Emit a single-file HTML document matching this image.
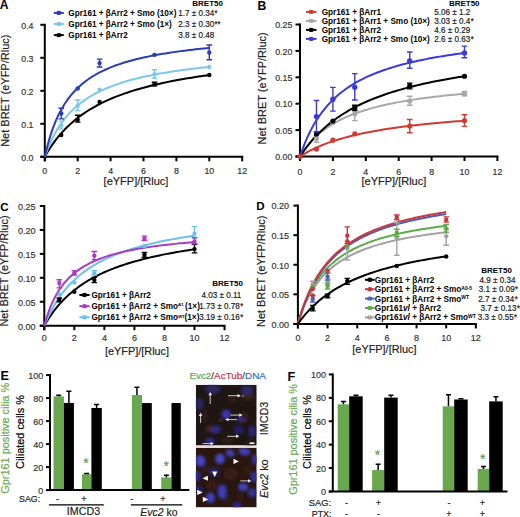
<!DOCTYPE html>
<html><head><meta charset="utf-8"><style>
html,body{margin:0;padding:0;background:#fff;width:520px;height:517px;overflow:hidden}
svg{display:block;font-family:"Liberation Sans", sans-serif}
</style></head><body>
<svg width="520" height="517" viewBox="0 0 520 517" font-family='"Liberation Sans", sans-serif'>
<rect width="520" height="517" fill="#fff"/>
<text x="-0.30" y="9.40" font-size="12.2" font-weight="bold" text-anchor="start" fill="#000" >A</text>
<text x="257.60" y="9.80" font-size="12.2" font-weight="bold" text-anchor="start" fill="#000" >B</text>
<text x="0.30" y="210.50" font-size="11.6" font-weight="bold" text-anchor="start" fill="#000" >C</text>
<text x="256.30" y="210.20" font-size="11.6" font-weight="bold" text-anchor="start" fill="#000" >D</text>
<text x="0.60" y="380.40" font-size="12.6" font-weight="bold" text-anchor="start" fill="#000" >E</text>
<text x="287.40" y="380.50" font-size="12.6" font-weight="bold" text-anchor="start" fill="#000" >F</text>
<path d="M44.80,161.30 V23.80" stroke="#000" stroke-width="2" fill="none"/>
<path d="M40.30,156.80 H243.20" stroke="#000" stroke-width="2" fill="none"/>
<path d="M40.30,156.80 H44.80" stroke="#000" stroke-width="2"/>
<text transform="translate(33.50,160.56) scale(1,1.06)" text-anchor="end" font-size="8.8" fill="#333" stroke="#333" stroke-width="0.18">0.0</text>
<path d="M40.30,123.80 H44.80" stroke="#000" stroke-width="2"/>
<text transform="translate(33.50,127.56) scale(1,1.06)" text-anchor="end" font-size="8.8" fill="#333" stroke="#333" stroke-width="0.18">0.1</text>
<path d="M40.30,90.80 H44.80" stroke="#000" stroke-width="2"/>
<text transform="translate(33.50,94.56) scale(1,1.06)" text-anchor="end" font-size="8.8" fill="#333" stroke="#333" stroke-width="0.18">0.2</text>
<path d="M40.30,57.80 H44.80" stroke="#000" stroke-width="2"/>
<text transform="translate(33.50,61.56) scale(1,1.06)" text-anchor="end" font-size="8.8" fill="#333" stroke="#333" stroke-width="0.18">0.3</text>
<path d="M40.30,24.80 H44.80" stroke="#000" stroke-width="2"/>
<text transform="translate(33.50,28.56) scale(1,1.06)" text-anchor="end" font-size="8.8" fill="#333" stroke="#333" stroke-width="0.18">0.4</text>
<path d="M44.80,156.80 V161.30" stroke="#000" stroke-width="2"/>
<text transform="translate(44.80,174.26) scale(1,1.06)" text-anchor="middle" font-size="8.8" fill="#333" stroke="#333" stroke-width="0.18">0</text>
<path d="M77.70,156.80 V161.30" stroke="#000" stroke-width="2"/>
<text transform="translate(77.70,174.26) scale(1,1.06)" text-anchor="middle" font-size="8.8" fill="#333" stroke="#333" stroke-width="0.18">2</text>
<path d="M110.60,156.80 V161.30" stroke="#000" stroke-width="2"/>
<text transform="translate(110.60,174.26) scale(1,1.06)" text-anchor="middle" font-size="8.8" fill="#333" stroke="#333" stroke-width="0.18">4</text>
<path d="M143.50,156.80 V161.30" stroke="#000" stroke-width="2"/>
<text transform="translate(143.50,174.26) scale(1,1.06)" text-anchor="middle" font-size="8.8" fill="#333" stroke="#333" stroke-width="0.18">6</text>
<path d="M176.40,156.80 V161.30" stroke="#000" stroke-width="2"/>
<text transform="translate(176.40,174.26) scale(1,1.06)" text-anchor="middle" font-size="8.8" fill="#333" stroke="#333" stroke-width="0.18">8</text>
<path d="M209.30,156.80 V161.30" stroke="#000" stroke-width="2"/>
<text transform="translate(209.30,174.26) scale(1,1.06)" text-anchor="middle" font-size="8.8" fill="#333" stroke="#333" stroke-width="0.18">10</text>
<path d="M242.20,156.80 V161.30" stroke="#000" stroke-width="2"/>
<text transform="translate(242.20,174.26) scale(1,1.06)" text-anchor="middle" font-size="8.8" fill="#333" stroke="#333" stroke-width="0.18">12</text>
<polyline points="44.80,156.80 47.54,152.06 50.28,147.70 53.02,143.68 55.77,139.96 58.51,136.50 61.25,133.29 63.99,130.29 66.73,127.49 69.47,124.86 72.22,122.39 74.96,120.07 77.70,117.88 80.44,115.82 83.18,113.86 85.92,112.01 88.67,110.26 91.41,108.59 94.15,107.01 96.89,105.50 99.63,104.06 102.38,102.69 105.12,101.38 107.86,100.12 110.60,98.92 113.34,97.77 116.08,96.67 118.82,95.61 121.57,94.59 124.31,93.62 127.05,92.68 129.79,91.77 132.53,90.90 135.27,90.05 138.02,89.24 140.76,88.46 143.50,87.70 146.24,86.97 148.98,86.26 151.72,85.58 154.47,84.91 157.21,84.27 159.95,83.65 162.69,83.05 165.43,82.46 168.18,81.89 170.92,81.34 173.66,80.81 176.40,80.28 179.14,79.78 181.88,79.29 184.62,78.81 187.37,78.34 190.11,77.89 192.85,77.45 195.59,77.01 198.33,76.59 201.07,76.19 203.82,75.79 206.56,75.40 209.30,75.02" stroke="#000" stroke-width="2" fill="none"/>
<polyline points="44.80,156.80 47.54,149.33 50.28,142.81 53.02,137.06 55.77,131.96 58.51,127.40 61.25,123.30 63.99,119.60 66.73,116.23 69.47,113.16 72.22,110.35 74.96,107.77 77.70,105.38 80.44,103.18 83.18,101.13 85.92,99.22 88.67,97.44 91.41,95.78 94.15,94.22 96.89,92.76 99.63,91.39 102.38,90.09 105.12,88.86 107.86,87.71 110.60,86.61 113.34,85.57 116.08,84.58 118.82,83.64 121.57,82.75 124.31,81.89 127.05,81.08 129.79,80.30 132.53,79.56 135.27,78.85 138.02,78.17 140.76,77.51 143.50,76.88 146.24,76.28 148.98,75.70 151.72,75.14 154.47,74.61 157.21,74.09 159.95,73.59 162.69,73.11 165.43,72.64 168.18,72.20 170.92,71.76 173.66,71.34 176.40,70.94 179.14,70.54 181.88,70.16 184.62,69.79 187.37,69.44 190.11,69.09 192.85,68.75 195.59,68.42 198.33,68.11 201.07,67.80 203.82,67.50 206.56,67.21 209.30,66.92" stroke="#7cc8ea" stroke-width="2" fill="none"/>
<polyline points="44.80,156.80 47.54,145.43 50.28,135.92 53.02,127.85 55.77,120.92 58.51,114.90 61.25,109.62 63.99,104.96 66.73,100.81 69.47,97.09 72.22,93.74 74.96,90.71 77.70,87.95 80.44,85.42 83.18,83.11 85.92,80.98 88.67,79.01 91.41,77.19 94.15,75.49 96.89,73.92 99.63,72.44 102.38,71.06 105.12,69.77 107.86,68.55 110.60,67.41 113.34,66.33 116.08,65.31 118.82,64.35 121.57,63.43 124.31,62.56 127.05,61.74 129.79,60.96 132.53,60.21 135.27,59.50 138.02,58.82 140.76,58.17 143.50,57.54 146.24,56.95 148.98,56.38 151.72,55.83 154.47,55.30 157.21,54.80 159.95,54.31 162.69,53.84 165.43,53.39 168.18,52.96 170.92,52.54 173.66,52.13 176.40,51.74 179.14,51.37 181.88,51.00 184.62,50.65 187.37,50.31 190.11,49.98 192.85,49.66 195.59,49.35 198.33,49.05 201.07,48.75 203.82,48.47 206.56,48.20 209.30,47.93" stroke="#2b3db5" stroke-width="2" fill="none"/>
<circle cx="61.25" cy="135.02" r="2.2" fill="#000"/>
<path d="M77.70,122.15 V115.22 M74.90,122.15 H80.50 M74.90,115.22 H80.50" stroke="#000" stroke-width="1.4" fill="none"/>
<circle cx="77.70" cy="119.84" r="2.2" fill="#000"/>
<circle cx="99.58" cy="102.02" r="2.2" fill="#000"/>
<path d="M154.52,85.85 V82.22 M151.72,85.85 H157.32 M151.72,82.22 H157.32" stroke="#000" stroke-width="1.4" fill="none"/>
<circle cx="154.52" cy="84.20" r="2.2" fill="#000"/>
<circle cx="209.30" cy="74.96" r="2.2" fill="#000"/>
<path d="M61.25,129.08 V121.16 M58.45,129.08 H64.05 M58.45,121.16 H64.05" stroke="#7cc8ea" stroke-width="1.4" fill="none"/>
<circle cx="61.25" cy="125.45" r="2.2" fill="#7cc8ea"/>
<path d="M77.70,110.60 V100.04 M74.90,110.60 H80.50 M74.90,100.04 H80.50" stroke="#7cc8ea" stroke-width="1.4" fill="none"/>
<circle cx="77.70" cy="105.65" r="2.2" fill="#7cc8ea"/>
<circle cx="99.58" cy="89.81" r="2.2" fill="#7cc8ea"/>
<path d="M154.52,78.26 V69.68 M151.72,78.26 H157.32 M151.72,69.68 H157.32" stroke="#7cc8ea" stroke-width="1.4" fill="none"/>
<circle cx="154.52" cy="74.30" r="2.2" fill="#7cc8ea"/>
<circle cx="209.30" cy="67.04" r="2.2" fill="#7cc8ea"/>
<path d="M61.25,118.85 V108.29 M58.45,118.85 H64.05 M58.45,108.29 H64.05" stroke="#2b3db5" stroke-width="1.4" fill="none"/>
<circle cx="61.25" cy="113.57" r="2.2" fill="#2b3db5"/>
<circle cx="77.70" cy="88.49" r="2.2" fill="#2b3db5"/>
<path d="M99.58,67.04 V59.12 M96.78,67.04 H102.38 M96.78,59.12 H102.38" stroke="#2b3db5" stroke-width="1.4" fill="none"/>
<circle cx="99.58" cy="63.08" r="2.2" fill="#2b3db5"/>
<circle cx="154.52" cy="54.83" r="2.2" fill="#2b3db5"/>
<path d="M209.30,59.78 V44.93 M206.50,59.78 H212.10 M206.50,44.93 H212.10" stroke="#2b3db5" stroke-width="1.4" fill="none"/>
<circle cx="209.30" cy="52.52" r="2.2" fill="#2b3db5"/>
<path d="M53.80,12.90 H63.80" stroke="#2b3db5" stroke-width="2"/>
<ellipse cx="58.80" cy="12.90" rx="2.6" ry="2.2" fill="#2b3db5"/>
<text x="68.30" y="15.80" font-size="8.2" font-weight="bold" text-anchor="start" fill="#000" >Gpr161 + βArr2 + Smo (10×)</text>
<text transform="translate(178.20,15.80) scale(1,1.08)" font-size="8.1" font-weight="normal" text-anchor="start" fill="#1a1a1a"  stroke="#1a1a1a" stroke-width="0.18">1.7 ± 0.34<tspan font-size="7.6" dx="0.4">*</tspan></text>
<path d="M53.80,24.00 H63.80" stroke="#7cc8ea" stroke-width="2"/>
<ellipse cx="58.80" cy="24.00" rx="2.6" ry="2.2" fill="#7cc8ea"/>
<text x="68.30" y="26.90" font-size="8.2" font-weight="bold" text-anchor="start" fill="#000" >Gpr161 + βArr2 + Smo (1×)</text>
<text transform="translate(178.20,26.90) scale(1,1.08)" font-size="8.1" font-weight="normal" text-anchor="start" fill="#1a1a1a"  stroke="#1a1a1a" stroke-width="0.18">2.3 ± 0.30<tspan font-size="7.6" dx="0.4">**</tspan></text>
<path d="M53.80,35.10 H63.80" stroke="#000" stroke-width="2"/>
<ellipse cx="58.80" cy="35.10" rx="2.6" ry="2.2" fill="#000"/>
<text x="68.30" y="38.00" font-size="8.2" font-weight="bold" text-anchor="start" fill="#000" >Gpr161 + βArr2</text>
<text transform="translate(178.20,38.00) scale(1,1.08)" font-size="8.1" font-weight="normal" text-anchor="start" fill="#1a1a1a"  stroke="#1a1a1a" stroke-width="0.18">3.8 ± 0.48</text>
<text x="192.30" y="5.80" font-size="8.0" font-weight="bold" text-anchor="start" fill="#000" >BRET50</text>
<text x="136.00" y="184.80" font-size="11" font-weight="normal" text-anchor="middle" fill="#222"  stroke="#222" stroke-width="0.18">[eYFP]/[Rluc]</text>
<text transform="translate(8.6,90.7) rotate(-90)" text-anchor="middle" font-size="11" fill="#222" stroke="#222" stroke-width="0.18">Net BRET (eYFP/Rluc)</text>
<path d="M300.00,161.00 V23.50" stroke="#000" stroke-width="2" fill="none"/>
<path d="M295.50,156.50 H498.40" stroke="#000" stroke-width="2" fill="none"/>
<path d="M295.50,156.50 H300.00" stroke="#000" stroke-width="2"/>
<text transform="translate(292.30,160.26) scale(1,1.06)" text-anchor="end" font-size="8.8" fill="#333" stroke="#333" stroke-width="0.18">0.00</text>
<path d="M295.50,130.10 H300.00" stroke="#000" stroke-width="2"/>
<text transform="translate(292.30,133.86) scale(1,1.06)" text-anchor="end" font-size="8.8" fill="#333" stroke="#333" stroke-width="0.18">0.05</text>
<path d="M295.50,103.70 H300.00" stroke="#000" stroke-width="2"/>
<text transform="translate(292.30,107.46) scale(1,1.06)" text-anchor="end" font-size="8.8" fill="#333" stroke="#333" stroke-width="0.18">0.10</text>
<path d="M295.50,77.30 H300.00" stroke="#000" stroke-width="2"/>
<text transform="translate(292.30,81.06) scale(1,1.06)" text-anchor="end" font-size="8.8" fill="#333" stroke="#333" stroke-width="0.18">0.15</text>
<path d="M295.50,50.90 H300.00" stroke="#000" stroke-width="2"/>
<text transform="translate(292.30,54.66) scale(1,1.06)" text-anchor="end" font-size="8.8" fill="#333" stroke="#333" stroke-width="0.18">0.20</text>
<path d="M295.50,24.50 H300.00" stroke="#000" stroke-width="2"/>
<text transform="translate(292.30,28.26) scale(1,1.06)" text-anchor="end" font-size="8.8" fill="#333" stroke="#333" stroke-width="0.18">0.25</text>
<path d="M300.00,156.50 V161.00" stroke="#000" stroke-width="2"/>
<text transform="translate(300.00,174.66) scale(1,1.06)" text-anchor="middle" font-size="8.8" fill="#333" stroke="#333" stroke-width="0.18">0</text>
<path d="M332.90,156.50 V161.00" stroke="#000" stroke-width="2"/>
<text transform="translate(332.90,174.66) scale(1,1.06)" text-anchor="middle" font-size="8.8" fill="#333" stroke="#333" stroke-width="0.18">2</text>
<path d="M365.80,156.50 V161.00" stroke="#000" stroke-width="2"/>
<text transform="translate(365.80,174.66) scale(1,1.06)" text-anchor="middle" font-size="8.8" fill="#333" stroke="#333" stroke-width="0.18">4</text>
<path d="M398.70,156.50 V161.00" stroke="#000" stroke-width="2"/>
<text transform="translate(398.70,174.66) scale(1,1.06)" text-anchor="middle" font-size="8.8" fill="#333" stroke="#333" stroke-width="0.18">6</text>
<path d="M431.60,156.50 V161.00" stroke="#000" stroke-width="2"/>
<text transform="translate(431.60,174.66) scale(1,1.06)" text-anchor="middle" font-size="8.8" fill="#333" stroke="#333" stroke-width="0.18">8</text>
<path d="M464.50,156.50 V161.00" stroke="#000" stroke-width="2"/>
<text transform="translate(464.50,174.66) scale(1,1.06)" text-anchor="middle" font-size="8.8" fill="#333" stroke="#333" stroke-width="0.18">10</text>
<path d="M497.40,156.50 V161.00" stroke="#000" stroke-width="2"/>
<text transform="translate(497.40,174.66) scale(1,1.06)" text-anchor="middle" font-size="8.8" fill="#333" stroke="#333" stroke-width="0.18">12</text>
<polyline points="300.00,156.50 302.74,154.78 305.48,153.17 308.23,151.66 310.97,150.23 313.71,148.88 316.45,147.61 319.19,146.41 321.93,145.27 324.68,144.19 327.42,143.16 330.16,142.18 332.90,141.24 335.64,140.35 338.38,139.50 341.12,138.69 343.87,137.91 346.61,137.17 349.35,136.45 352.09,135.77 354.83,135.11 357.57,134.48 360.32,133.87 363.06,133.29 365.80,132.72 368.54,132.18 371.28,131.66 374.02,131.15 376.77,130.66 379.51,130.19 382.25,129.73 384.99,129.29 387.73,128.86 390.48,128.45 393.22,128.05 395.96,127.66 398.70,127.28 401.44,126.92 404.18,126.56 406.93,126.22 409.67,125.88 412.41,125.56 415.15,125.24 417.89,124.93 420.63,124.63 423.38,124.34 426.12,124.06 428.86,123.78 431.60,123.51 434.34,123.25 437.08,122.99 439.82,122.74 442.57,122.50 445.31,122.26 448.05,122.03 450.79,121.80 453.53,121.58 456.27,121.36 459.02,121.15 461.76,120.94 464.50,120.74" stroke="#d03a2e" stroke-width="2" fill="none"/>
<polyline points="300.00,156.50 302.74,152.23 305.48,148.39 308.23,144.91 310.97,141.74 313.71,138.85 316.45,136.19 319.19,133.75 321.93,131.49 324.68,129.40 327.42,127.46 330.16,125.65 332.90,123.96 335.64,122.38 338.38,120.90 341.12,119.50 343.87,118.19 346.61,116.95 349.35,115.78 352.09,114.68 354.83,113.63 357.57,112.63 360.32,111.69 363.06,110.79 365.80,109.93 368.54,109.12 371.28,108.34 374.02,107.59 376.77,106.88 379.51,106.20 382.25,105.54 384.99,104.91 387.73,104.31 390.48,103.73 393.22,103.17 395.96,102.64 398.70,102.12 401.44,101.62 404.18,101.14 406.93,100.68 409.67,100.23 412.41,99.80 415.15,99.38 417.89,98.98 420.63,98.59 423.38,98.21 426.12,97.84 428.86,97.49 431.60,97.14 434.34,96.81 437.08,96.48 439.82,96.17 442.57,95.86 445.31,95.56 448.05,95.27 450.79,94.99 453.53,94.72 456.27,94.45 459.02,94.19 461.76,93.94 464.50,93.69" stroke="#a8a8a8" stroke-width="2" fill="none"/>
<polyline points="300.00,156.50 302.74,152.40 305.48,148.58 308.23,145.01 310.97,141.66 313.71,138.52 316.45,135.57 319.19,132.79 321.93,130.16 324.68,127.68 327.42,125.33 330.16,123.10 332.90,120.98 335.64,118.97 338.38,117.05 341.12,115.23 343.87,113.48 346.61,111.82 349.35,110.23 352.09,108.71 354.83,107.25 357.57,105.85 360.32,104.51 363.06,103.22 365.80,101.98 368.54,100.79 371.28,99.64 374.02,98.54 376.77,97.47 379.51,96.44 382.25,95.45 384.99,94.49 387.73,93.57 390.48,92.67 393.22,91.80 395.96,90.96 398.70,90.15 401.44,89.36 404.18,88.60 406.93,87.86 409.67,87.14 412.41,86.44 415.15,85.77 417.89,85.11 420.63,84.47 423.38,83.85 426.12,83.24 428.86,82.65 431.60,82.08 434.34,81.52 437.08,80.97 439.82,80.44 442.57,79.93 445.31,79.42 448.05,78.93 450.79,78.45 453.53,77.98 456.27,77.52 459.02,77.08 461.76,76.64 464.50,76.22" stroke="#000" stroke-width="2" fill="none"/>
<polyline points="300.00,156.50 302.74,148.64 305.48,141.68 308.23,135.47 310.97,129.88 313.71,124.85 316.45,120.27 319.19,116.11 321.93,112.29 324.68,108.79 327.42,105.56 330.16,102.57 332.90,99.80 335.64,97.22 338.38,94.82 341.12,92.57 343.87,90.47 346.61,88.49 349.35,86.63 352.09,84.88 354.83,83.23 357.57,81.67 360.32,80.19 363.06,78.79 365.80,77.46 368.54,76.19 371.28,74.99 374.02,73.84 376.77,72.75 379.51,71.70 382.25,70.70 384.99,69.74 387.73,68.83 390.48,67.95 393.22,67.10 395.96,66.29 398.70,65.51 401.44,64.76 404.18,64.04 406.93,63.35 409.67,62.68 412.41,62.03 415.15,61.41 417.89,60.80 420.63,60.22 423.38,59.66 426.12,59.11 428.86,58.58 431.60,58.07 434.34,57.58 437.08,57.10 439.82,56.63 442.57,56.18 445.31,55.74 448.05,55.32 450.79,54.90 453.53,54.50 456.27,54.11 459.02,53.73 461.76,53.36 464.50,53.00" stroke="#3a3ad8" stroke-width="2" fill="none"/>
<circle cx="300.00" cy="156.50" r="2.6" fill="#d03a2e"/>
<circle cx="316.45" cy="149.11" r="2.6" fill="#d03a2e"/>
<circle cx="332.90" cy="140.13" r="2.6" fill="#d03a2e"/>
<circle cx="354.78" cy="133.80" r="2.6" fill="#d03a2e"/>
<path d="M409.72,132.74 V119.54 M406.92,132.74 H412.52 M406.92,119.54 H412.52" stroke="#d03a2e" stroke-width="1.4" fill="none"/>
<circle cx="409.72" cy="126.09" r="2.6" fill="#d03a2e"/>
<path d="M464.50,126.40 V114.79 M461.70,126.40 H467.30 M461.70,114.79 H467.30" stroke="#d03a2e" stroke-width="1.4" fill="none"/>
<circle cx="464.50" cy="120.60" r="2.6" fill="#d03a2e"/>
<path d="M316.45,142.24 V135.91 M313.65,142.24 H319.25 M313.65,135.91 H319.25" stroke="#a8a8a8" stroke-width="1.4" fill="none"/>
<circle cx="316.45" cy="138.55" r="2.6" fill="#a8a8a8"/>
<circle cx="332.90" cy="122.18" r="2.6" fill="#a8a8a8"/>
<path d="M354.78,120.60 V106.34 M351.98,120.60 H357.58 M351.98,106.34 H357.58" stroke="#a8a8a8" stroke-width="1.4" fill="none"/>
<circle cx="354.78" cy="113.73" r="2.6" fill="#a8a8a8"/>
<path d="M409.72,105.28 V96.31 M406.92,105.28 H412.52 M406.92,96.31 H412.52" stroke="#a8a8a8" stroke-width="1.4" fill="none"/>
<circle cx="409.72" cy="101.06" r="2.6" fill="#a8a8a8"/>
<path d="M464.50,95.78 V91.56 M461.70,95.78 H467.30 M461.70,91.56 H467.30" stroke="#a8a8a8" stroke-width="1.4" fill="none"/>
<circle cx="464.50" cy="93.67" r="2.6" fill="#a8a8a8"/>
<circle cx="316.45" cy="134.01" r="2.6" fill="#000"/>
<circle cx="332.90" cy="121.12" r="2.6" fill="#000"/>
<path d="M354.78,110.56 V105.28 M351.98,110.56 H357.58 M351.98,105.28 H357.58" stroke="#000" stroke-width="1.4" fill="none"/>
<circle cx="354.78" cy="107.92" r="2.6" fill="#000"/>
<path d="M409.72,88.92 V83.11 M406.92,88.92 H412.52 M406.92,83.11 H412.52" stroke="#000" stroke-width="1.4" fill="none"/>
<circle cx="409.72" cy="85.75" r="2.6" fill="#000"/>
<circle cx="464.50" cy="76.24" r="2.6" fill="#000"/>
<path d="M316.45,131.68 V100.53 M313.65,131.68 H319.25 M313.65,100.53 H319.25" stroke="#3a3ad8" stroke-width="1.4" fill="none"/>
<circle cx="316.45" cy="116.58" r="2.7" fill="#3a3ad8"/>
<path d="M332.90,111.09 V87.33 M330.10,111.09 H335.70 M330.10,87.33 H335.70" stroke="#3a3ad8" stroke-width="1.4" fill="none"/>
<circle cx="332.90" cy="99.21" r="2.7" fill="#3a3ad8"/>
<path d="M354.78,100.00 V73.60 M351.98,100.00 H357.58 M351.98,73.60 H357.58" stroke="#3a3ad8" stroke-width="1.4" fill="none"/>
<circle cx="354.78" cy="87.33" r="2.7" fill="#3a3ad8"/>
<path d="M409.72,68.32 V51.96 M406.92,68.32 H412.52 M406.92,51.96 H412.52" stroke="#3a3ad8" stroke-width="1.4" fill="none"/>
<circle cx="409.72" cy="60.93" r="2.7" fill="#3a3ad8"/>
<path d="M464.50,57.76 V46.15 M461.70,57.76 H467.30 M461.70,46.15 H467.30" stroke="#3a3ad8" stroke-width="1.4" fill="none"/>
<circle cx="464.50" cy="53.01" r="2.7" fill="#3a3ad8"/>
<path d="M306.00,11.90 H316.50" stroke="#d03a2e" stroke-width="2"/>
<ellipse cx="311.25" cy="11.90" rx="2.6" ry="2.2" fill="#d03a2e"/>
<text x="321.70" y="14.80" font-size="8.2" font-weight="bold" text-anchor="start" fill="#000" >Gpr161 + βArr1</text>
<text transform="translate(434.30,14.80) scale(1,1.08)" font-size="8.1" font-weight="normal" text-anchor="start" fill="#1a1a1a"  stroke="#1a1a1a" stroke-width="0.18">5.06 ± 1.2</text>
<path d="M306.00,20.90 H316.50" stroke="#a8a8a8" stroke-width="2"/>
<ellipse cx="311.25" cy="20.90" rx="2.6" ry="2.2" fill="#a8a8a8"/>
<text x="321.70" y="23.80" font-size="8.2" font-weight="bold" text-anchor="start" fill="#000" >Gpr161 + βArr1 + Smo (10×)</text>
<text transform="translate(434.30,23.80) scale(1,1.08)" font-size="8.1" font-weight="normal" text-anchor="start" fill="#1a1a1a"  stroke="#1a1a1a" stroke-width="0.18">3.03 ± 0.4<tspan font-size="7.6" dx="0.4">*</tspan></text>
<path d="M306.00,29.90 H316.50" stroke="#000" stroke-width="2"/>
<ellipse cx="311.25" cy="29.90" rx="2.6" ry="2.2" fill="#000"/>
<text x="321.70" y="32.80" font-size="8.2" font-weight="bold" text-anchor="start" fill="#000" >Gpr161 + βArr2</text>
<text transform="translate(434.30,32.80) scale(1,1.08)" font-size="8.1" font-weight="normal" text-anchor="start" fill="#1a1a1a"  stroke="#1a1a1a" stroke-width="0.18">4.6 ± 0.29</text>
<path d="M306.00,38.90 H316.50" stroke="#3a3ad8" stroke-width="2"/>
<ellipse cx="311.25" cy="38.90" rx="2.6" ry="2.2" fill="#3a3ad8"/>
<text x="321.70" y="41.80" font-size="8.2" font-weight="bold" text-anchor="start" fill="#000" >Gpr161 + βArr2 + Smo (10×)</text>
<text transform="translate(434.30,41.80) scale(1,1.08)" font-size="8.1" font-weight="normal" text-anchor="start" fill="#1a1a1a"  stroke="#1a1a1a" stroke-width="0.18">2.6 ± 0.63<tspan font-size="7.6" dx="0.4">*</tspan></text>
<text x="448.90" y="5.90" font-size="8.0" font-weight="bold" text-anchor="start" fill="#000" >BRET50</text>
<text x="393.90" y="184.80" font-size="11" font-weight="normal" text-anchor="middle" fill="#222"  stroke="#222" stroke-width="0.18">[eYFP]/[Rluc]</text>
<text transform="translate(265.8,88.4) rotate(-90)" text-anchor="middle" font-size="11" fill="#222" stroke="#222" stroke-width="0.18">Net BRET (eYFP/Rluc)</text><path d="M44.30,330.20 V205.00" stroke="#000" stroke-width="2" fill="none"/>
<path d="M39.80,325.70 H225.54" stroke="#000" stroke-width="2" fill="none"/>
<path d="M39.80,325.70 H44.30" stroke="#000" stroke-width="2"/>
<text transform="translate(35.40,329.54) scale(1,1.06)" text-anchor="end" font-size="9.0" fill="#333" stroke="#333" stroke-width="0.18">0.00</text>
<path d="M39.80,301.76 H44.30" stroke="#000" stroke-width="2"/>
<text transform="translate(35.40,305.60) scale(1,1.06)" text-anchor="end" font-size="9.0" fill="#333" stroke="#333" stroke-width="0.18">0.05</text>
<path d="M39.80,277.82 H44.30" stroke="#000" stroke-width="2"/>
<text transform="translate(35.40,281.66) scale(1,1.06)" text-anchor="end" font-size="9.0" fill="#333" stroke="#333" stroke-width="0.18">0.10</text>
<path d="M39.80,253.88 H44.30" stroke="#000" stroke-width="2"/>
<text transform="translate(35.40,257.72) scale(1,1.06)" text-anchor="end" font-size="9.0" fill="#333" stroke="#333" stroke-width="0.18">0.15</text>
<path d="M39.80,229.94 H44.30" stroke="#000" stroke-width="2"/>
<text transform="translate(35.40,233.78) scale(1,1.06)" text-anchor="end" font-size="9.0" fill="#333" stroke="#333" stroke-width="0.18">0.20</text>
<path d="M39.80,206.00 H44.30" stroke="#000" stroke-width="2"/>
<text transform="translate(35.40,209.84) scale(1,1.06)" text-anchor="end" font-size="9.0" fill="#333" stroke="#333" stroke-width="0.18">0.25</text>
<path d="M44.30,325.70 V330.20" stroke="#000" stroke-width="2"/>
<text transform="translate(44.30,341.14) scale(1,1.06)" text-anchor="middle" font-size="9.0" fill="#333" stroke="#333" stroke-width="0.18">0</text>
<path d="M74.34,325.70 V330.20" stroke="#000" stroke-width="2"/>
<text transform="translate(74.34,341.14) scale(1,1.06)" text-anchor="middle" font-size="9.0" fill="#333" stroke="#333" stroke-width="0.18">2</text>
<path d="M104.38,325.70 V330.20" stroke="#000" stroke-width="2"/>
<text transform="translate(104.38,341.14) scale(1,1.06)" text-anchor="middle" font-size="9.0" fill="#333" stroke="#333" stroke-width="0.18">4</text>
<path d="M134.42,325.70 V330.20" stroke="#000" stroke-width="2"/>
<text transform="translate(134.42,341.14) scale(1,1.06)" text-anchor="middle" font-size="9.0" fill="#333" stroke="#333" stroke-width="0.18">6</text>
<path d="M164.46,325.70 V330.20" stroke="#000" stroke-width="2"/>
<text transform="translate(164.46,341.14) scale(1,1.06)" text-anchor="middle" font-size="9.0" fill="#333" stroke="#333" stroke-width="0.18">8</text>
<path d="M194.50,325.70 V330.20" stroke="#000" stroke-width="2"/>
<text transform="translate(194.50,341.14) scale(1,1.06)" text-anchor="middle" font-size="9.0" fill="#333" stroke="#333" stroke-width="0.18">10</text>
<path d="M224.54,325.70 V330.20" stroke="#000" stroke-width="2"/>
<text transform="translate(224.54,341.14) scale(1,1.06)" text-anchor="middle" font-size="9.0" fill="#333" stroke="#333" stroke-width="0.18">12</text>
<polyline points="44.30,325.70 46.80,321.44 49.31,317.51 51.81,313.86 54.31,310.48 56.82,307.32 59.32,304.38 61.82,301.62 64.33,299.04 66.83,296.61 69.33,294.32 71.84,292.16 74.34,290.13 76.84,288.20 79.35,286.37 81.85,284.64 84.35,282.99 86.86,281.42 89.36,279.93 91.86,278.51 94.37,277.15 96.87,275.85 99.37,274.61 101.88,273.42 104.38,272.27 106.88,271.18 109.39,270.13 111.89,269.12 114.39,268.15 116.90,267.21 119.40,266.31 121.90,265.45 124.41,264.61 126.91,263.80 129.41,263.02 131.92,262.27 134.42,261.54 136.92,260.84 139.43,260.16 141.93,259.50 144.43,258.86 146.94,258.24 149.44,257.63 151.94,257.05 154.45,256.49 156.95,255.94 159.45,255.40 161.96,254.88 164.46,254.38 166.96,253.89 169.47,253.41 171.97,252.94 174.47,252.49 176.98,252.05 179.48,251.62 181.98,251.20 184.49,250.79 186.99,250.39 189.49,250.01 192.00,249.63 194.50,249.26" stroke="#000" stroke-width="2" fill="none"/>
<polyline points="44.30,325.70 46.80,319.80 49.31,314.47 51.81,309.61 54.31,305.17 56.82,301.11 59.32,297.36 61.82,293.90 64.33,290.70 66.83,287.72 69.33,284.95 71.84,282.36 74.34,279.94 76.84,277.67 79.35,275.54 81.85,273.53 84.35,271.63 86.86,269.84 89.36,268.15 91.86,266.55 94.37,265.02 96.87,263.58 99.37,262.20 101.88,260.89 104.38,259.64 106.88,258.45 109.39,257.31 111.89,256.21 114.39,255.17 116.90,254.17 119.40,253.21 121.90,252.29 124.41,251.40 126.91,250.55 129.41,249.73 131.92,248.94 134.42,248.18 136.92,247.44 139.43,246.73 141.93,246.05 144.43,245.39 146.94,244.75 149.44,244.13 151.94,243.53 154.45,242.95 156.95,242.39 159.45,241.85 161.96,241.32 164.46,240.81 166.96,240.31 169.47,239.83 171.97,239.36 174.47,238.90 176.98,238.46 179.48,238.03 181.98,237.61 184.49,237.20 186.99,236.81 189.49,236.42 192.00,236.04 194.50,235.68" stroke="#6cc0ea" stroke-width="2" fill="none"/>
<polyline points="44.30,325.70 46.80,317.07 49.31,309.84 51.81,303.69 54.31,298.40 56.82,293.79 59.32,289.75 61.82,286.17 64.33,282.98 66.83,280.12 69.33,277.54 71.84,275.20 74.34,273.07 76.84,271.12 79.35,269.34 81.85,267.69 84.35,266.17 86.86,264.76 89.36,263.45 91.86,262.22 94.37,261.08 96.87,260.01 99.37,259.01 101.88,258.07 104.38,257.18 106.88,256.34 109.39,255.55 111.89,254.80 114.39,254.09 116.90,253.42 119.40,252.78 121.90,252.17 124.41,251.59 126.91,251.03 129.41,250.50 131.92,250.00 134.42,249.51 136.92,249.05 139.43,248.61 141.93,248.18 144.43,247.77 146.94,247.38 149.44,247.00 151.94,246.63 154.45,246.28 156.95,245.94 159.45,245.62 161.96,245.30 164.46,245.00 166.96,244.70 169.47,244.42 171.97,244.14 174.47,243.88 176.98,243.62 179.48,243.37 181.98,243.13 184.49,242.89 186.99,242.67 189.49,242.45 192.00,242.23 194.50,242.02" stroke="#a83cc8" stroke-width="2" fill="none"/>
<path d="M59.32,301.76 V297.93 M56.52,301.76 H62.12 M56.52,297.93 H62.12" stroke="#000" stroke-width="1.4" fill="none"/>
<circle cx="59.32" cy="299.84" r="2.2" fill="#000"/>
<circle cx="74.34" cy="291.71" r="2.2" fill="#000"/>
<path d="M94.32,282.61 V277.34 M91.52,282.61 H97.12 M91.52,277.34 H97.12" stroke="#000" stroke-width="1.4" fill="none"/>
<circle cx="94.32" cy="279.88" r="2.2" fill="#000"/>
<path d="M144.48,257.23 V252.44 M141.68,257.23 H147.28 M141.68,252.44 H147.28" stroke="#000" stroke-width="1.4" fill="none"/>
<circle cx="144.48" cy="254.84" r="2.2" fill="#000"/>
<path d="M194.50,252.92 V244.30 M191.70,252.92 H197.30 M191.70,244.30 H197.30" stroke="#000" stroke-width="1.4" fill="none"/>
<circle cx="194.50" cy="249.09" r="2.2" fill="#000"/>
<circle cx="59.32" cy="294.10" r="2.2" fill="#6cc0ea"/>
<circle cx="74.34" cy="282.61" r="2.2" fill="#6cc0ea"/>
<path d="M94.32,274.95 V270.64 M91.52,274.95 H97.12 M91.52,270.64 H97.12" stroke="#6cc0ea" stroke-width="1.4" fill="none"/>
<circle cx="94.32" cy="273.03" r="2.2" fill="#6cc0ea"/>
<circle cx="144.48" cy="246.22" r="2.2" fill="#6cc0ea"/>
<path d="M194.50,238.08 V226.59 M191.70,238.08 H197.30 M191.70,226.59 H197.30" stroke="#6cc0ea" stroke-width="1.4" fill="none"/>
<circle cx="194.50" cy="233.77" r="2.2" fill="#6cc0ea"/>
<path d="M59.32,287.87 V279.74 M56.52,287.87 H62.12 M56.52,279.74 H62.12" stroke="#a83cc8" stroke-width="1.4" fill="none"/>
<circle cx="59.32" cy="282.90" r="2.2" fill="#a83cc8"/>
<path d="M74.34,274.95 V270.64 M71.54,274.95 H77.14 M71.54,270.64 H77.14" stroke="#a83cc8" stroke-width="1.4" fill="none"/>
<circle cx="74.34" cy="273.03" r="2.2" fill="#a83cc8"/>
<path d="M94.32,259.63 V251.49 M91.52,259.63 H97.12 M91.52,251.49 H97.12" stroke="#a83cc8" stroke-width="1.4" fill="none"/>
<circle cx="94.32" cy="255.80" r="2.2" fill="#a83cc8"/>
<path d="M144.48,240.47 V236.16 M141.68,240.47 H147.28 M141.68,236.16 H147.28" stroke="#a83cc8" stroke-width="1.4" fill="none"/>
<circle cx="144.48" cy="238.56" r="2.2" fill="#a83cc8"/>
<path d="M194.50,243.83 V237.60 M191.70,243.83 H197.30 M191.70,237.60 H197.30" stroke="#a83cc8" stroke-width="1.4" fill="none"/>
<circle cx="194.50" cy="241.43" r="2.2" fill="#a83cc8"/>
<path d="M79.40,295.00 H89.60" stroke="#000" stroke-width="2"/>
<ellipse cx="84.50" cy="295.00" rx="2.6" ry="2.2" fill="#000"/>
<text x="91.50" y="297.90" font-size="8.2" font-weight="bold" text-anchor="start" fill="#000" >Gpr161 + βArr2</text>
<path d="M79.40,306.15 H89.60" stroke="#a83cc8" stroke-width="2"/>
<ellipse cx="84.50" cy="306.15" rx="2.6" ry="2.2" fill="#a83cc8"/>
<text x="91.50" y="309.05" font-size="8.2" font-weight="bold" text-anchor="start" fill="#000" >Gpr161 + βArr2 + Smo<tspan font-size="4.4" dy="-2.6">A1</tspan></text>
<text x="185.10" y="309.05" font-size="8.2" font-weight="bold" text-anchor="start" fill="#000" >(1×)</text>
<path d="M79.40,317.30 H89.60" stroke="#6cc0ea" stroke-width="2"/>
<ellipse cx="84.50" cy="317.30" rx="2.6" ry="2.2" fill="#6cc0ea"/>
<text x="91.50" y="320.20" font-size="8.2" font-weight="bold" text-anchor="start" fill="#000" >Gpr161 + βArr2 + Smo<tspan font-size="4.4" dy="-2.6">WT</tspan></text>
<text x="184.60" y="320.20" font-size="8.2" font-weight="bold" text-anchor="start" fill="#000" >(1×)</text>
<text transform="translate(201.50,297.90) scale(1,1.08)" font-size="8.1" font-weight="normal" text-anchor="start" fill="#1a1a1a"  stroke="#1a1a1a" stroke-width="0.18">4.03 ± 0.11</text>
<text transform="translate(199.30,309.05) scale(1,1.08)" font-size="8.1" font-weight="normal" text-anchor="start" fill="#1a1a1a"  stroke="#1a1a1a" stroke-width="0.18">1.73 ± 0.78<tspan font-size="7.6" dx="0.4">*</tspan></text>
<text transform="translate(199.30,320.20) scale(1,1.08)" font-size="8.1" font-weight="normal" text-anchor="start" fill="#1a1a1a"  stroke="#1a1a1a" stroke-width="0.18">3.19 ± 0.16<tspan font-size="7.6" dx="0.4">*</tspan></text>
<text x="212.30" y="286.40" font-size="8.0" font-weight="bold" text-anchor="start" fill="#000" >BRET50</text>
<text x="137.00" y="354.80" font-size="10.9" font-weight="normal" text-anchor="middle" fill="#222"  stroke="#222" stroke-width="0.18">[eYFP]/[Rluc]</text>
<text transform="translate(8.4,271) rotate(-90)" text-anchor="middle" font-size="10.9" fill="#222" stroke="#222" stroke-width="0.18">Net BRET (eYFP/Rluc)</text>
<path d="M297.90,328.40 V204.60" stroke="#000" stroke-width="2" fill="none"/>
<path d="M293.40,323.90 H476.86" stroke="#000" stroke-width="2" fill="none"/>
<path d="M293.40,323.90 H297.90" stroke="#000" stroke-width="2"/>
<text transform="translate(289.00,327.74) scale(1,1.06)" text-anchor="end" font-size="9.0" fill="#333" stroke="#333" stroke-width="0.18">0.00</text>
<path d="M293.40,294.32 H297.90" stroke="#000" stroke-width="2"/>
<text transform="translate(289.00,298.16) scale(1,1.06)" text-anchor="end" font-size="9.0" fill="#333" stroke="#333" stroke-width="0.18">0.05</text>
<path d="M293.40,264.75 H297.90" stroke="#000" stroke-width="2"/>
<text transform="translate(289.00,268.59) scale(1,1.06)" text-anchor="end" font-size="9.0" fill="#333" stroke="#333" stroke-width="0.18">0.10</text>
<path d="M293.40,235.17 H297.90" stroke="#000" stroke-width="2"/>
<text transform="translate(289.00,239.01) scale(1,1.06)" text-anchor="end" font-size="9.0" fill="#333" stroke="#333" stroke-width="0.18">0.15</text>
<path d="M293.40,205.60 H297.90" stroke="#000" stroke-width="2"/>
<text transform="translate(289.00,209.44) scale(1,1.06)" text-anchor="end" font-size="9.0" fill="#333" stroke="#333" stroke-width="0.18">0.20</text>
<path d="M297.90,323.90 V328.40" stroke="#000" stroke-width="2"/>
<text transform="translate(297.90,341.34) scale(1,1.06)" text-anchor="middle" font-size="9.0" fill="#333" stroke="#333" stroke-width="0.18">0</text>
<path d="M327.56,323.90 V328.40" stroke="#000" stroke-width="2"/>
<text transform="translate(327.56,341.34) scale(1,1.06)" text-anchor="middle" font-size="9.0" fill="#333" stroke="#333" stroke-width="0.18">2</text>
<path d="M357.22,323.90 V328.40" stroke="#000" stroke-width="2"/>
<text transform="translate(357.22,341.34) scale(1,1.06)" text-anchor="middle" font-size="9.0" fill="#333" stroke="#333" stroke-width="0.18">4</text>
<path d="M386.88,323.90 V328.40" stroke="#000" stroke-width="2"/>
<text transform="translate(386.88,341.34) scale(1,1.06)" text-anchor="middle" font-size="9.0" fill="#333" stroke="#333" stroke-width="0.18">6</text>
<path d="M416.54,323.90 V328.40" stroke="#000" stroke-width="2"/>
<text transform="translate(416.54,341.34) scale(1,1.06)" text-anchor="middle" font-size="9.0" fill="#333" stroke="#333" stroke-width="0.18">8</text>
<path d="M446.20,323.90 V328.40" stroke="#000" stroke-width="2"/>
<text transform="translate(446.20,341.34) scale(1,1.06)" text-anchor="middle" font-size="9.0" fill="#333" stroke="#333" stroke-width="0.18">10</text>
<path d="M475.86,323.90 V328.40" stroke="#000" stroke-width="2"/>
<text transform="translate(475.86,341.34) scale(1,1.06)" text-anchor="middle" font-size="9.0" fill="#333" stroke="#333" stroke-width="0.18">12</text>
<polyline points="297.90,323.90 300.37,316.28 302.84,309.62 305.31,303.76 307.79,298.55 310.26,293.90 312.73,289.72 315.20,285.94 317.67,282.51 320.14,279.37 322.62,276.51 325.09,273.87 327.56,271.44 330.03,269.18 332.50,267.09 334.97,265.15 337.45,263.34 339.92,261.64 342.39,260.05 344.86,258.56 347.33,257.15 349.80,255.83 352.28,254.58 354.75,253.40 357.22,252.28 359.69,251.22 362.16,250.21 364.63,249.25 367.11,248.34 369.58,247.47 372.05,246.64 374.52,245.85 376.99,245.09 379.46,244.36 381.94,243.67 384.41,243.00 386.88,242.36 389.35,241.74 391.82,241.15 394.29,240.58 396.77,240.03 399.24,239.51 401.71,239.00 404.18,238.51 406.65,238.03 409.12,237.57 411.60,237.13 414.07,236.70 416.54,236.29 419.01,235.89 421.48,235.50 423.95,235.12 426.43,234.76 428.90,234.40 431.37,234.06 433.84,233.73 436.31,233.40 438.78,233.09 441.26,232.78 443.73,232.48 446.20,232.19" stroke="#a4a0a4" stroke-width="2" fill="none"/>
<polyline points="297.90,323.90 300.37,315.75 302.84,308.63 305.31,302.35 307.79,296.78 310.26,291.81 312.73,287.33 315.20,283.29 317.67,279.62 320.14,276.27 322.62,273.20 325.09,270.38 327.56,267.78 330.03,265.37 332.50,263.13 334.97,261.05 337.45,259.11 339.92,257.30 342.39,255.60 344.86,254.00 347.33,252.50 349.80,251.08 352.28,249.75 354.75,248.48 357.22,247.29 359.69,246.15 362.16,245.07 364.63,244.05 367.11,243.07 369.58,242.14 372.05,241.25 374.52,240.40 376.99,239.59 379.46,238.81 381.94,238.07 384.41,237.36 386.88,236.67 389.35,236.01 391.82,235.38 394.29,234.77 396.77,234.19 399.24,233.62 401.71,233.08 404.18,232.55 406.65,232.04 409.12,231.55 411.60,231.08 414.07,230.62 416.54,230.18 419.01,229.75 421.48,229.33 423.95,228.93 426.43,228.54 428.90,228.16 431.37,227.79 433.84,227.44 436.31,227.09 438.78,226.75 441.26,226.43 443.73,226.11 446.20,225.80" stroke="#5caa4a" stroke-width="2" fill="none"/>
<polyline points="297.90,323.90 300.37,315.56 302.84,308.17 305.31,301.58 307.79,295.65 310.26,290.31 312.73,285.45 315.20,281.03 317.67,276.98 320.14,273.26 322.62,269.83 325.09,266.66 327.56,263.72 330.03,260.99 332.50,258.44 334.97,256.05 337.45,253.82 339.92,251.72 342.39,249.75 344.86,247.89 347.33,246.14 349.80,244.48 352.28,242.91 354.75,241.43 357.22,240.01 359.69,238.67 362.16,237.39 364.63,236.17 367.11,235.01 369.58,233.90 372.05,232.84 374.52,231.82 376.99,230.85 379.46,229.92 381.94,229.02 384.41,228.16 386.88,227.33 389.35,226.54 391.82,225.77 394.29,225.03 396.77,224.32 399.24,223.64 401.71,222.98 404.18,222.34 406.65,221.72 409.12,221.12 411.60,220.54 414.07,219.98 416.54,219.44 419.01,218.91 421.48,218.40 423.95,217.91 426.43,217.43 428.90,216.96 431.37,216.51 433.84,216.07 436.31,215.65 438.78,215.23 441.26,214.83 443.73,214.43 446.20,214.05" stroke="#4a5ec0" stroke-width="2" fill="none"/>
<polyline points="297.90,323.90 300.37,315.34 302.84,307.76 305.31,301.01 307.79,294.95 310.26,289.49 312.73,284.53 315.20,280.02 317.67,275.89 320.14,272.10 322.62,268.61 325.09,265.39 327.56,262.39 330.03,259.61 332.50,257.02 334.97,254.60 337.45,252.33 339.92,250.21 342.39,248.20 344.86,246.32 347.33,244.54 349.80,242.86 352.28,241.27 354.75,239.77 357.22,238.34 359.69,236.97 362.16,235.68 364.63,234.45 367.11,233.27 369.58,232.15 372.05,231.07 374.52,230.04 376.99,229.06 379.46,228.12 381.94,227.21 384.41,226.34 386.88,225.51 389.35,224.70 391.82,223.93 394.29,223.18 396.77,222.46 399.24,221.77 401.71,221.10 404.18,220.46 406.65,219.83 409.12,219.23 411.60,218.64 414.07,218.08 416.54,217.53 419.01,217.00 421.48,216.49 423.95,215.99 426.43,215.50 428.90,215.03 431.37,214.58 433.84,214.13 436.31,213.70 438.78,213.28 441.26,212.88 443.73,212.48 446.20,212.09" stroke="#c8383a" stroke-width="2" fill="none"/>
<polyline points="297.90,323.90 300.37,320.50 302.84,317.32 305.31,314.34 307.79,311.56 310.26,308.93 312.73,306.47 315.20,304.14 317.67,301.94 320.14,299.86 322.62,297.89 325.09,296.01 327.56,294.24 330.03,292.54 332.50,290.93 334.97,289.40 337.45,287.93 339.92,286.53 342.39,285.18 344.86,283.90 347.33,282.67 349.80,281.49 352.28,280.35 354.75,279.26 357.22,278.21 359.69,277.20 362.16,276.23 364.63,275.29 367.11,274.39 369.58,273.52 372.05,272.68 374.52,271.86 376.99,271.08 379.46,270.32 381.94,269.58 384.41,268.87 386.88,268.18 389.35,267.51 391.82,266.86 394.29,266.23 396.77,265.62 399.24,265.02 401.71,264.45 404.18,263.89 406.65,263.34 409.12,262.81 411.60,262.29 414.07,261.79 416.54,261.30 419.01,260.83 421.48,260.36 423.95,259.91 426.43,259.47 428.90,259.04 431.37,258.62 433.84,258.21 436.31,257.81 438.78,257.42 441.26,257.04 443.73,256.66 446.20,256.30" stroke="#000" stroke-width="2" fill="none"/>
<path d="M312.73,310.89 V305.56 M309.93,310.89 H315.53 M309.93,305.56 H315.53" stroke="#000" stroke-width="1.4" fill="none"/>
<circle cx="312.73" cy="308.52" r="2.2" fill="#000"/>
<path d="M327.56,297.87 V294.32 M324.76,297.87 H330.36 M324.76,294.32 H330.36" stroke="#000" stroke-width="1.4" fill="none"/>
<circle cx="327.56" cy="296.10" r="2.2" fill="#000"/>
<path d="M347.28,284.27 V278.35 M344.48,284.27 H350.08 M344.48,278.35 H350.08" stroke="#000" stroke-width="1.4" fill="none"/>
<circle cx="347.28" cy="281.02" r="2.2" fill="#000"/>
<circle cx="396.82" cy="265.93" r="2.2" fill="#000"/>
<circle cx="446.20" cy="256.47" r="2.2" fill="#000"/>
<path d="M312.73,288.41 V281.31 M309.93,288.41 H315.53 M309.93,281.31 H315.53" stroke="#a4a0a4" stroke-width="1.4" fill="none"/>
<circle cx="312.73" cy="284.27" r="2.2" fill="#a4a0a4"/>
<path d="M327.56,284.86 V278.95 M324.76,284.86 H330.36 M324.76,278.95 H330.36" stroke="#a4a0a4" stroke-width="1.4" fill="none"/>
<circle cx="327.56" cy="281.90" r="2.2" fill="#a4a0a4"/>
<path d="M347.28,260.02 V241.09 M344.48,260.02 H350.08 M344.48,241.09 H350.08" stroke="#a4a0a4" stroke-width="1.4" fill="none"/>
<circle cx="347.28" cy="248.19" r="2.2" fill="#a4a0a4"/>
<path d="M396.82,255.29 V222.75 M394.02,255.29 H399.62 M394.02,222.75 H399.62" stroke="#a4a0a4" stroke-width="1.4" fill="none"/>
<circle cx="396.82" cy="238.13" r="2.2" fill="#a4a0a4"/>
<path d="M446.20,245.23 V229.26 M443.40,245.23 H449.00 M443.40,229.26 H449.00" stroke="#a4a0a4" stroke-width="1.4" fill="none"/>
<circle cx="446.20" cy="236.36" r="2.2" fill="#a4a0a4"/>
<circle cx="312.73" cy="286.64" r="2.2" fill="#5caa4a"/>
<path d="M327.56,289.00 V283.09 M324.76,289.00 H330.36 M324.76,283.09 H330.36" stroke="#5caa4a" stroke-width="1.4" fill="none"/>
<circle cx="327.56" cy="286.04" r="2.2" fill="#5caa4a"/>
<circle cx="347.28" cy="246.41" r="2.2" fill="#5caa4a"/>
<path d="M396.82,236.36 V229.26 M394.02,236.36 H399.62 M394.02,229.26 H399.62" stroke="#5caa4a" stroke-width="1.4" fill="none"/>
<circle cx="396.82" cy="232.81" r="2.2" fill="#5caa4a"/>
<path d="M446.20,232.22 V224.53 M443.40,232.22 H449.00 M443.40,224.53 H449.00" stroke="#5caa4a" stroke-width="1.4" fill="none"/>
<circle cx="446.20" cy="228.67" r="2.2" fill="#5caa4a"/>
<path d="M312.73,302.01 V295.51 M309.93,302.01 H315.53 M309.93,295.51 H315.53" stroke="#4a5ec0" stroke-width="1.4" fill="none"/>
<circle cx="312.73" cy="299.06" r="2.2" fill="#4a5ec0"/>
<path d="M327.56,280.13 V273.03 M324.76,280.13 H330.36 M324.76,273.03 H330.36" stroke="#4a5ec0" stroke-width="1.4" fill="none"/>
<circle cx="327.56" cy="276.58" r="2.2" fill="#4a5ec0"/>
<circle cx="312.73" cy="295.51" r="2.2" fill="#c8383a"/>
<circle cx="312.73" cy="289.00" r="2.2" fill="#c8383a"/>
<circle cx="327.56" cy="270.66" r="2.2" fill="#c8383a"/>
<circle cx="347.28" cy="241.09" r="2.2" fill="#c8383a"/>
<path d="M347.28,243.46 V226.89 M344.48,243.46 H350.08 M344.48,226.89 H350.08" stroke="#c8383a" stroke-width="1.4" fill="none"/>
<circle cx="347.28" cy="235.77" r="2.2" fill="#c8383a"/>
<path d="M396.82,219.80 V215.06 M394.02,219.80 H399.62 M394.02,215.06 H399.62" stroke="#c8383a" stroke-width="1.4" fill="none"/>
<circle cx="396.82" cy="217.43" r="2.2" fill="#c8383a"/>
<path d="M446.20,222.16 V216.84 M443.40,222.16 H449.00 M443.40,216.84 H449.00" stroke="#c8383a" stroke-width="1.4" fill="none"/>
<circle cx="446.20" cy="219.80" r="2.2" fill="#c8383a"/>
<path d="M365.00,279.80 H374.60" stroke="#000" stroke-width="2"/>
<ellipse cx="369.80" cy="279.80" rx="2.6" ry="2.2" fill="#000"/>
<text x="374.80" y="282.70" font-size="8.2" font-weight="bold" text-anchor="start" fill="#000" >Gpr161 + βArr2</text>
<text transform="translate(479.60,282.70) scale(1,1.08)" font-size="8.1" font-weight="normal" text-anchor="start" fill="#1a1a1a"  stroke="#1a1a1a" stroke-width="0.18">4.9 ± 0.34</text>
<path d="M365.00,289.20 H374.60" stroke="#c8383a" stroke-width="2"/>
<ellipse cx="369.80" cy="289.20" rx="2.6" ry="2.2" fill="#c8383a"/>
<text x="374.80" y="292.10" font-size="8.2" font-weight="bold" text-anchor="start" fill="#000" >Gpr161 + βArr2 + Smo<tspan font-size="5" dy="-2.6">A0-5</tspan></text>
<text transform="translate(478.70,292.10) scale(1,1.08)" font-size="8.1" font-weight="normal" text-anchor="start" fill="#1a1a1a"  stroke="#1a1a1a" stroke-width="0.18">3.1 ± 0.09<tspan font-size="7.6" dx="0.4">*</tspan></text>
<path d="M365.00,298.60 H374.60" stroke="#4a5ec0" stroke-width="2"/>
<ellipse cx="369.80" cy="298.60" rx="2.6" ry="2.2" fill="#4a5ec0"/>
<text x="374.80" y="301.50" font-size="8.2" font-weight="bold" text-anchor="start" fill="#000" >Gpr161 + βArr2 + Smo<tspan font-size="5" dy="-2.6">WT</tspan></text>
<text transform="translate(478.30,301.50) scale(1,1.08)" font-size="8.1" font-weight="normal" text-anchor="start" fill="#1a1a1a"  stroke="#1a1a1a" stroke-width="0.18">2.7 ± 0.34<tspan font-size="7.6" dx="0.4">*</tspan></text>
<path d="M365.00,308.00 H374.60" stroke="#5caa4a" stroke-width="2"/>
<ellipse cx="369.80" cy="308.00" rx="2.6" ry="2.2" fill="#5caa4a"/>
<text x="374.80" y="310.90" font-size="8.2" font-weight="bold" text-anchor="start" fill="#000" >Gpr161<tspan font-style="italic">vl</tspan> + βArr2</text>
<text transform="translate(480.60,310.90) scale(1,1.08)" font-size="8.1" font-weight="normal" text-anchor="start" fill="#1a1a1a"  stroke="#1a1a1a" stroke-width="0.18">3.7 ± 0.13<tspan font-size="7.6" dx="0.4">*</tspan></text>
<path d="M365.00,317.40 H374.60" stroke="#a4a0a4" stroke-width="2"/>
<ellipse cx="369.80" cy="317.40" rx="2.6" ry="2.2" fill="#a4a0a4"/>
<text x="374.80" y="320.30" font-size="8.2" font-weight="bold" text-anchor="start" fill="#000" >Gpr161<tspan font-style="italic">vl</tspan> + βArr2 + Smo<tspan font-size="5" dy="-2.6">WT</tspan></text>
<text transform="translate(477.70,320.30) scale(1,1.08)" font-size="8.1" font-weight="normal" text-anchor="start" fill="#1a1a1a"  stroke="#1a1a1a" stroke-width="0.18">3.3 ± 0.55<tspan font-size="7.6" dx="0.4">*</tspan></text>
<text x="481.20" y="272.50" font-size="8.0" font-weight="bold" text-anchor="start" fill="#000" >BRET50</text>
<text x="384.40" y="353.30" font-size="10.9" font-weight="normal" text-anchor="middle" fill="#222"  stroke="#222" stroke-width="0.18">[eYFP]/[Rluc]</text>
<text transform="translate(264.7,271.3) rotate(-90)" text-anchor="middle" font-size="10.9" fill="#222" stroke="#222" stroke-width="0.18">Net BRET (eYFP/Rluc)</text><rect x="53.50" y="396.38" width="10.40" height="93.73" fill="#6aa84f"/>
<path d="M58.70,396.38 V395.23 M56.20,395.23 H61.20" stroke="#000" stroke-width="1.5"/>
<rect x="63.90" y="402.93" width="10.00" height="87.17" fill="#000"/>
<path d="M68.90,402.93 V391.20 M66.40,391.20 H71.40" stroke="#000" stroke-width="1.5"/>
<rect x="82.00" y="474.23" width="9.40" height="15.87" fill="#6aa84f"/>
<path d="M86.70,474.23 V473.43 M84.20,473.43 H89.20" stroke="#000" stroke-width="1.5"/>
<rect x="91.40" y="407.99" width="10.40" height="82.11" fill="#000"/>
<path d="M96.60,407.99 V404.54 M94.10,404.54 H99.10" stroke="#000" stroke-width="1.5"/>
<rect x="131.90" y="395.00" width="10.10" height="95.11" fill="#6aa84f"/>
<path d="M136.95,395.00 V387.18 M134.45,387.18 H139.45" stroke="#000" stroke-width="1.5"/>
<rect x="142.00" y="403.05" width="9.80" height="87.06" fill="#000"/>
<rect x="161.20" y="477.45" width="10.30" height="12.65" fill="#6aa84f"/>
<path d="M166.35,477.45 V475.15 M163.85,475.15 H168.85" stroke="#000" stroke-width="1.5"/>
<rect x="171.50" y="403.05" width="9.30" height="87.06" fill="#000"/>
<path d="M50.00,490.10 V374.10" stroke="#000" stroke-width="2" fill="none"/>
<path d="M46.00,490.10 H189.40" stroke="#000" stroke-width="2" fill="none"/>
<path d="M46.00,490.10 H50.00" stroke="#000" stroke-width="2"/>
<text transform="translate(43.30,493.64) scale(1,1.06)" text-anchor="end" font-size="9" fill="#333" stroke="#333" stroke-width="0.18">0</text>
<path d="M46.00,467.10 H50.00" stroke="#000" stroke-width="2"/>
<text transform="translate(43.30,470.64) scale(1,1.06)" text-anchor="end" font-size="9" fill="#333" stroke="#333" stroke-width="0.18">20</text>
<path d="M46.00,444.10 H50.00" stroke="#000" stroke-width="2"/>
<text transform="translate(43.30,447.64) scale(1,1.06)" text-anchor="end" font-size="9" fill="#333" stroke="#333" stroke-width="0.18">40</text>
<path d="M46.00,421.10 H50.00" stroke="#000" stroke-width="2"/>
<text transform="translate(43.30,424.64) scale(1,1.06)" text-anchor="end" font-size="9" fill="#333" stroke="#333" stroke-width="0.18">60</text>
<path d="M46.00,398.10 H50.00" stroke="#000" stroke-width="2"/>
<text transform="translate(43.30,401.64) scale(1,1.06)" text-anchor="end" font-size="9" fill="#333" stroke="#333" stroke-width="0.18">80</text>
<path d="M46.00,375.10 H50.00" stroke="#000" stroke-width="2"/>
<text transform="translate(43.30,378.64) scale(1,1.06)" text-anchor="end" font-size="9" fill="#333" stroke="#333" stroke-width="0.18">100</text>
<text x="86.00" y="467.90" font-size="14" font-weight="normal" text-anchor="middle" fill="#5f9a55"  stroke="#5f9a55" stroke-width="0.18">*</text>
<text x="166.30" y="470.50" font-size="14" font-weight="normal" text-anchor="middle" fill="#5f9a55"  stroke="#5f9a55" stroke-width="0.18">*</text>
<text x="40.20" y="502.00" font-size="8.9" font-weight="normal" text-anchor="end" fill="#222"  stroke="#222" stroke-width="0.18">SAG:</text>
<text x="57.50" y="501.50" font-size="9" font-weight="normal" text-anchor="middle" fill="#222"  stroke="#222" stroke-width="0.18">-</text>
<text x="84.00" y="502.30" font-size="9" font-weight="normal" text-anchor="middle" fill="#222"  stroke="#222" stroke-width="0.18">+</text>
<text x="131.70" y="501.50" font-size="9" font-weight="normal" text-anchor="middle" fill="#222"  stroke="#222" stroke-width="0.18">-</text>
<text x="163.00" y="502.30" font-size="9" font-weight="normal" text-anchor="middle" fill="#222"  stroke="#222" stroke-width="0.18">+</text>
<path d="M49,504.8 H103.8 M130.8,504.8 H182.3" stroke="#000" stroke-width="1.3"/>
<text x="83.50" y="515.40" font-size="10.7" font-weight="normal" text-anchor="middle" fill="#222"  stroke="#222" stroke-width="0.18">IMCD3</text>
<text x="159.00" y="515.50" font-size="10.5" font-weight="normal" text-anchor="middle" fill="#222"  stroke="#222" stroke-width="0.18"><tspan font-style="italic">Evc2</tspan> ko</text>
<text transform="translate(8.9,438.3) rotate(-90)" text-anchor="middle" font-size="10.9" fill="#6aa84f" stroke="#6aa84f" stroke-width="0.18">Gpr161 positive cilia %</text>
<text transform="translate(24.2,432) rotate(-90)" text-anchor="middle" font-size="10.9" fill="#000" stroke="#000" stroke-width="0.18">Ciliated cells %</text>
<rect x="337.70" y="404.33" width="11.50" height="86.97" fill="#6aa84f"/>
<path d="M343.45,404.33 V401.62 M340.95,401.62 H345.95" stroke="#000" stroke-width="1.5"/>
<rect x="349.20" y="396.31" width="13.50" height="94.99" fill="#000"/>
<path d="M355.95,396.31 V395.13 M353.45,395.13 H358.45" stroke="#000" stroke-width="1.5"/>
<rect x="372.10" y="470.06" width="12.10" height="21.24" fill="#6aa84f"/>
<path d="M378.15,470.06 V464.16 M375.65,464.16 H380.65" stroke="#000" stroke-width="1.5"/>
<rect x="384.20" y="397.61" width="13.50" height="93.69" fill="#000"/>
<path d="M390.95,397.61 V395.25 M388.45,395.25 H393.45" stroke="#000" stroke-width="1.5"/>
<rect x="442.70" y="406.34" width="11.50" height="84.96" fill="#6aa84f"/>
<path d="M448.45,406.34 V394.66 M445.95,394.66 H450.95" stroke="#000" stroke-width="1.5"/>
<rect x="454.20" y="399.50" width="13.50" height="91.80" fill="#000"/>
<path d="M460.95,399.50 V398.67 M458.45,398.67 H463.45" stroke="#000" stroke-width="1.5"/>
<rect x="477.70" y="468.88" width="11.50" height="22.42" fill="#6aa84f"/>
<path d="M483.45,468.88 V466.52 M480.95,466.52 H485.95" stroke="#000" stroke-width="1.5"/>
<rect x="489.20" y="401.38" width="13.50" height="89.92" fill="#000"/>
<path d="M495.95,401.38 V396.66 M493.45,396.66 H498.45" stroke="#000" stroke-width="1.5"/>
<path d="M332.80,491.45 V373.45" stroke="#000" stroke-width="2" fill="none"/>
<path d="M328.80,491.45 H507.50" stroke="#000" stroke-width="2" fill="none"/>
<path d="M328.80,491.45 H332.80" stroke="#000" stroke-width="2"/>
<text transform="translate(326.10,494.99) scale(1,1.06)" text-anchor="end" font-size="9" fill="#333" stroke="#333" stroke-width="0.18">0</text>
<path d="M328.80,468.05 H332.80" stroke="#000" stroke-width="2"/>
<text transform="translate(326.10,471.59) scale(1,1.06)" text-anchor="end" font-size="9" fill="#333" stroke="#333" stroke-width="0.18">20</text>
<path d="M328.80,444.65 H332.80" stroke="#000" stroke-width="2"/>
<text transform="translate(326.10,448.19) scale(1,1.06)" text-anchor="end" font-size="9" fill="#333" stroke="#333" stroke-width="0.18">40</text>
<path d="M328.80,421.25 H332.80" stroke="#000" stroke-width="2"/>
<text transform="translate(326.10,424.79) scale(1,1.06)" text-anchor="end" font-size="9" fill="#333" stroke="#333" stroke-width="0.18">60</text>
<path d="M328.80,397.85 H332.80" stroke="#000" stroke-width="2"/>
<text transform="translate(326.10,401.39) scale(1,1.06)" text-anchor="end" font-size="9" fill="#333" stroke="#333" stroke-width="0.18">80</text>
<path d="M328.80,374.45 H332.80" stroke="#000" stroke-width="2"/>
<text transform="translate(326.10,377.99) scale(1,1.06)" text-anchor="end" font-size="9" fill="#333" stroke="#333" stroke-width="0.18">100</text>
<text x="377.60" y="460.00" font-size="14" font-weight="normal" text-anchor="middle" fill="#5f9a55"  stroke="#5f9a55" stroke-width="0.18">*</text>
<text x="482.80" y="463.80" font-size="14" font-weight="normal" text-anchor="middle" fill="#5f9a55"  stroke="#5f9a55" stroke-width="0.18">*</text>
<text x="331.20" y="505.80" font-size="9.4" font-weight="normal" text-anchor="end" fill="#222"  stroke="#222" stroke-width="0.18">SAG:</text>
<text x="331.50" y="516.80" font-size="8.9" font-weight="normal" text-anchor="end" fill="#222"  stroke="#222" stroke-width="0.18">PTX:</text>
<text x="346.40" y="505.50" font-size="9" font-weight="normal" text-anchor="middle" fill="#222"  stroke="#222" stroke-width="0.18">-</text>
<text x="346.40" y="516.50" font-size="9" font-weight="normal" text-anchor="middle" fill="#222"  stroke="#222" stroke-width="0.18">-</text>
<text x="378.50" y="505.50" font-size="9" font-weight="normal" text-anchor="middle" fill="#222"  stroke="#222" stroke-width="0.18">+</text>
<text x="378.50" y="516.50" font-size="9" font-weight="normal" text-anchor="middle" fill="#222"  stroke="#222" stroke-width="0.18">-</text>
<text x="449.00" y="505.50" font-size="9" font-weight="normal" text-anchor="middle" fill="#222"  stroke="#222" stroke-width="0.18">-</text>
<text x="449.00" y="516.50" font-size="9" font-weight="normal" text-anchor="middle" fill="#222"  stroke="#222" stroke-width="0.18">+</text>
<text x="482.50" y="505.50" font-size="9" font-weight="normal" text-anchor="middle" fill="#222"  stroke="#222" stroke-width="0.18">+</text>
<text x="482.50" y="516.50" font-size="9" font-weight="normal" text-anchor="middle" fill="#222"  stroke="#222" stroke-width="0.18">+</text>
<text transform="translate(296.6,439.4) rotate(-90)" text-anchor="middle" font-size="10.9" fill="#6aa84f" stroke="#6aa84f" stroke-width="0.18">Gpr161 positive cilia %</text>
<text transform="translate(311.1,432) rotate(-90)" text-anchor="middle" font-size="10.9" fill="#000" stroke="#000" stroke-width="0.18">Ciliated cells %</text><defs><filter id="bl" x="-50%" y="-50%" width="200%" height="200%"><feGaussianBlur stdDeviation="1.7"/></filter><filter id="bl1" x="-50%" y="-50%" width="200%" height="200%"><feGaussianBlur stdDeviation="0.9"/></filter><filter id="bl2" x="-50%" y="-50%" width="200%" height="200%"><feGaussianBlur stdDeviation="0.45"/></filter><clipPath id="c1"><rect x="195.8" y="384.8" width="60.9" height="60.8"/></clipPath><clipPath id="c2"><rect x="195.8" y="447.8" width="60.9" height="59.6"/></clipPath></defs>
<rect x="195.6" y="446.0" width="61.6" height="1.8" fill="#e6dcdc"/>
<g clip-path="url(#c1)"><rect x="195.8" y="384.8" width="60.9" height="60.8" fill="#1f1614"/>
<g filter="url(#bl)">
<ellipse cx="212.6" cy="389.2" rx="8" ry="5" fill="#29265e"/>
<ellipse cx="247.2" cy="390.4" rx="6" ry="5" fill="#2e2c6e"/>
<ellipse cx="199" cy="404" rx="4.5" ry="6" fill="#28265e"/>
<ellipse cx="226.2" cy="414.6" rx="4.5" ry="4.5" fill="#3a38b8"/>
<ellipse cx="241" cy="418.9" rx="4" ry="3" fill="#2a2896"/>
<ellipse cx="215" cy="429.4" rx="6" ry="4" fill="#2c2a80"/>
<ellipse cx="208.9" cy="428.8" rx="3" ry="3" fill="#4a2424"/>
<ellipse cx="238.6" cy="430" rx="5" ry="5" fill="#221f60"/>
<ellipse cx="252.2" cy="431.3" rx="4" ry="6" fill="#28266e"/>
<ellipse cx="210" cy="441" rx="5" ry="3" fill="#2c2a8a"/>
<ellipse cx="248" cy="396.5" rx="8" ry="3" fill="#3a2220"/>
<ellipse cx="232" cy="400" rx="5" ry="3" fill="#2e1c18"/>
<ellipse cx="204" cy="416" rx="4" ry="6" fill="#2a1c16"/>
<ellipse cx="228" cy="440" rx="6" ry="3" fill="#2e1e18"/>
<ellipse cx="250" cy="443" rx="5" ry="3" fill="#2a1c16"/>
</g><g filter="url(#bl1)">
<ellipse cx="243.5" cy="417.7" rx="3" ry="4.5" fill="none" stroke="#6a3030" stroke-width="1.2"/>
<circle cx="220.6" cy="420.1" r="1.2" fill="#7a4a2a"/>
</g><g filter="url(#bl2)" fill="#fff">
<path d="M210.20,404.00 L210.20,394.70" stroke-width="1.0" stroke="#c8c8c8" fill="none"/>
<path d="M210.20,392.00 L211.90,395.20 L208.50,395.20 Z"/>
<path d="M228.00,395.70 L238.10,395.70" stroke-width="1.0" stroke="#c8c8c8" fill="none"/>
<path d="M240.80,395.70 L237.60,397.40 L237.60,394.00 Z"/>
<path d="M200.60,423.00 L200.60,415.50" stroke-width="1.0" stroke="#c8c8c8" fill="none"/>
<path d="M200.60,412.80 L202.30,416.00 L198.90,416.00 Z"/>
<path d="M230.50,415.10 L239.80,415.10" stroke-width="1.0" stroke="#c8c8c8" fill="none"/>
<path d="M242.50,415.10 L239.30,416.80 L239.30,413.40 Z"/>
<path d="M237.00,419.60 L227.90,419.60" stroke-width="1.0" stroke="#c8c8c8" fill="none"/>
<path d="M225.20,419.60 L228.40,417.90 L228.40,421.30 Z"/>
<path d="M227.20,436.30 L236.50,436.30" stroke-width="1.0" stroke="#c8c8c8" fill="none"/>
<path d="M239.20,436.30 L236.00,438.00 L236.00,434.60 Z"/>
<path d="M202.60,443.60 L211.10,443.60" stroke-width="1.0" stroke="#c8c8c8" fill="none"/>
<path d="M213.80,443.60 L210.60,445.30 L210.60,441.90 Z"/>
<circle cx="243" cy="396" r="0.8" fill="#bbb"/>
<rect x="249.6" y="442.4" width="4.8" height="1.6"/>
</g></g>
<g clip-path="url(#c2)"><rect x="195.8" y="447.8" width="60.9" height="59.6" fill="#28160f"/>
<g filter="url(#bl)">
<ellipse cx="200.3" cy="460.8" rx="5" ry="5.5" fill="#4444c4" transform="rotate(0 200.3 460.8)"/>
<ellipse cx="220" cy="458.8" rx="4.8" ry="5.2" fill="#4646c8" transform="rotate(0 220 458.8)"/>
<ellipse cx="230.2" cy="453.2" rx="4.6" ry="3.6" fill="#3c3cb4" transform="rotate(30 230.2 453.2)"/>
<ellipse cx="244.4" cy="451.6" rx="6" ry="3.6" fill="#4040bc" transform="rotate(10 244.4 451.6)"/>
<ellipse cx="255" cy="459.5" rx="3.5" ry="5" fill="#30309a" transform="rotate(0 255 459.5)"/>
<ellipse cx="214" cy="472" rx="5.5" ry="4.5" fill="#22226a" transform="rotate(0 214 472)"/>
<ellipse cx="197" cy="476" rx="3.5" ry="5.5" fill="#2c2c90" transform="rotate(0 197 476)"/>
<ellipse cx="222.3" cy="491.8" rx="4.6" ry="7.5" fill="#3a3ab4" transform="rotate(0 222.3 491.8)"/>
<ellipse cx="210.4" cy="497.7" rx="4.5" ry="5.5" fill="#3c3cbc" transform="rotate(0 210.4 497.7)"/>
<ellipse cx="243.1" cy="486.9" rx="5" ry="4" fill="#4040bc" transform="rotate(0 243.1 486.9)"/>
<ellipse cx="252.3" cy="492.8" rx="4.5" ry="4.5" fill="#303096" transform="rotate(0 252.3 492.8)"/>
<ellipse cx="254" cy="477" rx="3.5" ry="5.5" fill="#303094" transform="rotate(0 254 477)"/>
<ellipse cx="237.2" cy="505.3" rx="4.5" ry="3" fill="#2c2c90" transform="rotate(0 237.2 505.3)"/>
<ellipse cx="199" cy="490" rx="3.5" ry="4.5" fill="#24246a" transform="rotate(0 199 490)"/>
<ellipse cx="231" cy="474" rx="7" ry="6" fill="#3a1e12" transform="rotate(0 231 474)"/>
<ellipse cx="212" cy="485" rx="6" ry="4" fill="#3a1c12" transform="rotate(0 212 485)"/>
<ellipse cx="248" cy="470" rx="5" ry="4" fill="#341a10" transform="rotate(0 248 470)"/>
<ellipse cx="228" cy="500" rx="4" ry="4" fill="#2e1a10" transform="rotate(0 228 500)"/>
<ellipse cx="205" cy="468" rx="4" ry="3" fill="#341a12" transform="rotate(0 205 468)"/>
<ellipse cx="240" cy="497" rx="4" ry="3" fill="#321a10" transform="rotate(0 240 497)"/>
</g><g filter="url(#bl2)" fill="#fff">
<path d="M238.90,461.40 L233.50,458.83 L233.50,463.96 Z"/>
<path d="M214.70,477.00 L212.13,471.60 L217.26,471.60 Z"/>
<path d="M202.50,478.30 L207.90,475.74 L207.90,480.87 Z"/>
<path d="M202.60,492.40 L197.20,489.83 L197.20,494.96 Z"/>
<path d="M208.20,499.40 L202.80,496.83 L202.80,501.96 Z"/>
<path d="M240.40,480.90 L248.50,480.90" stroke-width="1.0" stroke="#c8c8c8" fill="none"/>
<path d="M251.20,480.90 L248.00,482.60 L248.00,479.20 Z"/>
</g></g>
<text x="189.40" y="379.30" font-size="9.9" font-weight="normal" text-anchor="start" fill="#000" class="ms"><tspan fill="#58a852" stroke="#58a852" stroke-width="0.2">Evc2</tspan><tspan fill="#5a3030" stroke="#5a3030" stroke-width="0.2">/</tspan><tspan fill="#c43444" stroke="#c43444" stroke-width="0.2">AcTub</tspan><tspan fill="#4a3a58" stroke="#4a3a58" stroke-width="0.2">/</tspan><tspan fill="#3468c4" stroke="#3468c4" stroke-width="0.2">DNA</tspan></text>
<text transform="translate(267.7,418.5) rotate(-90)" text-anchor="middle" font-size="10.8" fill="#222" stroke="#222" stroke-width="0.18">IMCD3</text>
<text transform="translate(267.7,478.7) rotate(-90)" text-anchor="middle" font-size="10.9" fill="#222" stroke="#222" stroke-width="0.18"><tspan font-style="italic">Evc2</tspan> ko</text>
</svg></body></html>
